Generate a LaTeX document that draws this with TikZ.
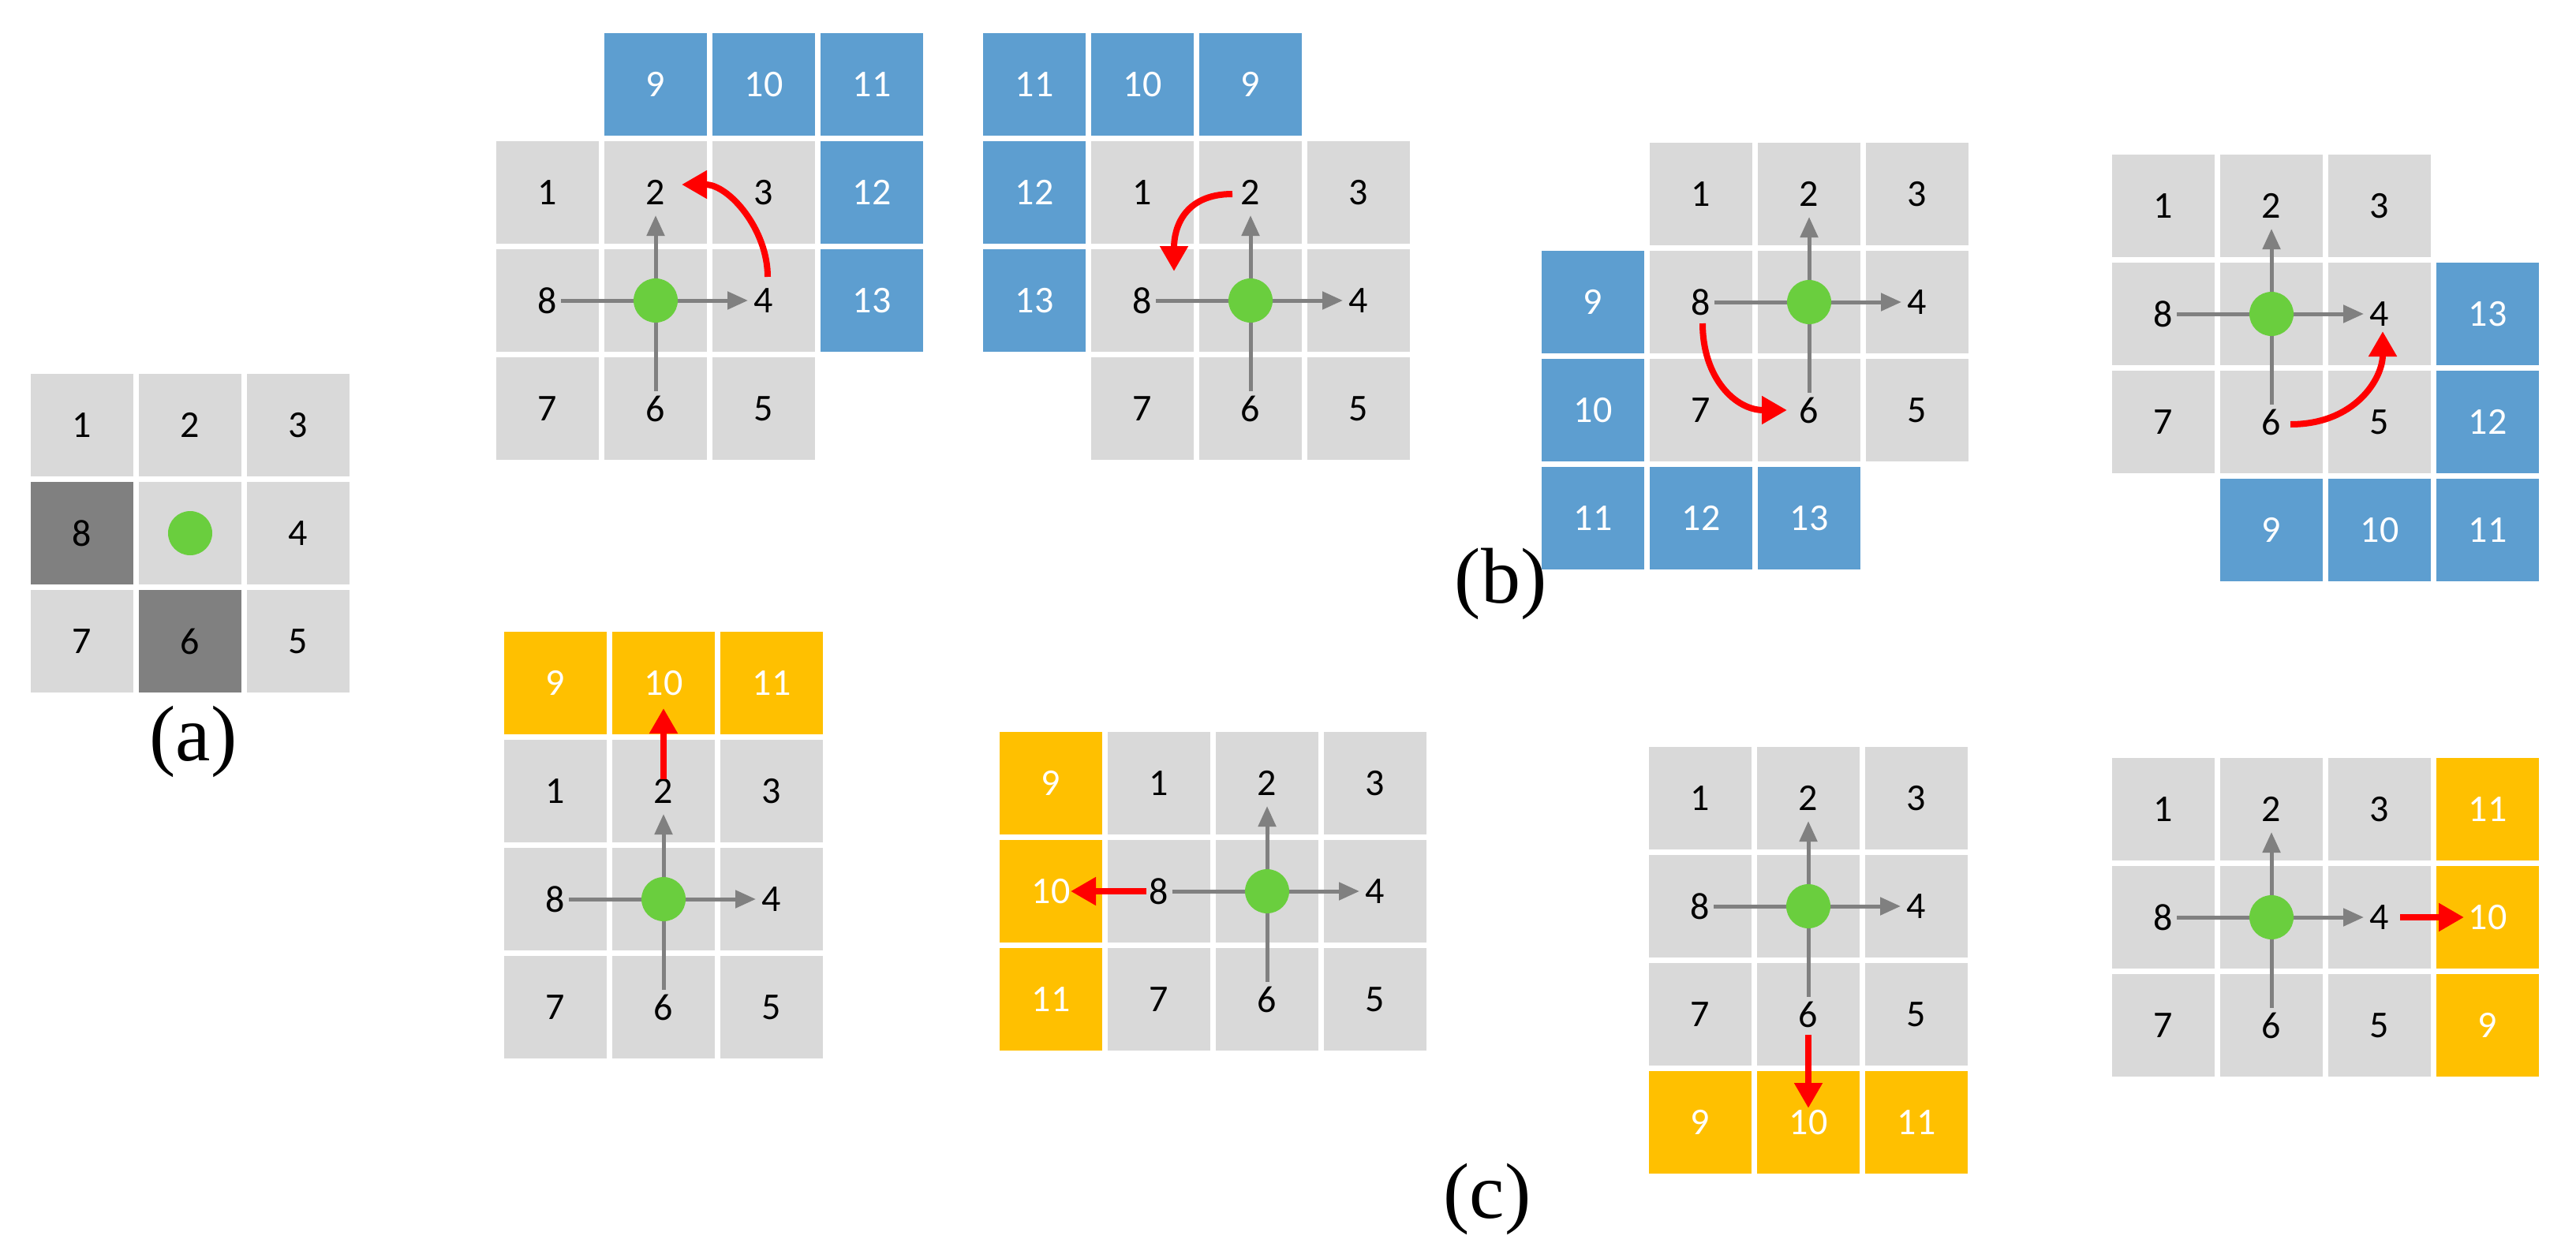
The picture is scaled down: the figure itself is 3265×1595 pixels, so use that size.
\documentclass[tikz,border=0pt]{standalone}
\usepackage{fontspec}
\setmainfont{Carlito}
\newfontfamily\tms{Liberation Serif}
\usetikzlibrary{arrows.meta}
\definecolor{cgray}{RGB}{217,217,217}
\definecolor{cdark}{RGB}{128,128,128}
\definecolor{cblue}{RGB}{93,158,208}
\definecolor{cyel}{RGB}{255,192,0}
\definecolor{cgreen}{RGB}{106,206,62}
\definecolor{cline}{RGB}{128,128,128}
\tikzset{
  cell/.style={fill=cgray, minimum size=130pt, inner sep=0pt, font=\fontsize{48}{50}\selectfont, text=black},
  dark/.style={cell, fill=cdark},
  blu/.style={cell, fill=cblue, text=white},
  yel/.style={cell, fill=cyel, text=white},
  dot/.style={circle, fill=cgreen, minimum size=56pt, inner sep=0pt},
  gline/.style={draw=cline, line width=5pt},
  garrow/.style={gline, -{Triangle[length=26pt,width=22pt]}},
  rarrow/.style={draw=red, line width=8pt, -{Triangle[length=32pt,width=34pt]}},
  lab/.style={font=\tms\fontsize{100}{110}\selectfont}
}
\newcommand\mkcell[5]{\node[#4] (#1) at ({#2+65},{#3+65}) {#5};}
% gray 3x3 grid: prefix, ox, oy, style of 8, style of 6
\newcommand\grid[5]{%
  \mkcell{#1-1}{#2}{#3}{cell}{1}
  \mkcell{#1-2}{#2+137}{#3}{cell}{2}
  \mkcell{#1-3}{#2+274}{#3}{cell}{3}
  \mkcell{#1-8}{#2}{#3+137}{#4}{8}
  \mkcell{#1-m}{#2+137}{#3+137}{cell}{}
  \mkcell{#1-4}{#2+274}{#3+137}{cell}{4}
  \mkcell{#1-7}{#2}{#3+274}{cell}{7}
  \mkcell{#1-6}{#2+137}{#3+274}{#5}{6}
  \mkcell{#1-5}{#2+274}{#3+274}{cell}{5}
}
\newcommand\garrows[1]{%
  \draw[garrow] (#1-m.center) -- ([yshift=-29pt]#1-2.center);
  \draw[garrow] (#1-m.center) -- ([xshift=-20pt]#1-4.center);
  \draw[gline] ([xshift=17pt]#1-8.center) -- (#1-m.center);
  \draw[gline] (#1-m.center) -- ([yshift=22pt]#1-6.center);
  \node[dot] (#1-d) at (#1-m.center) {};
}
\begin{document}
\begin{tikzpicture}[x=1pt,y=-1pt]
\useasboundingbox (0,0) rectangle (3265,1595);
% (a)
\grid{a}{39}{474}{dark}{dark}
\node[dot] (a-d) at (a-m.center) {};
\node[lab] (la) at (245,940) {(a)};

% (b) panel 1
\grid{b1}{629}{179}{cell}{cell}
\garrows{b1}
\mkcell{b1-9}{766}{42}{blu}{9}
\mkcell{b1-10}{903}{42}{blu}{10}
\mkcell{b1-11}{1040}{42}{blu}{11}
\mkcell{b1-12}{1040}{179}{blu}{12}
\mkcell{b1-13}{1040}{316}{blu}{13}
\draw[rarrow] ([shift={(5pt,30pt)}]b1-4.center) .. controls ([shift={(5pt,90pt)}]b1-4.center) and ([shift={(93pt,10pt)}]b1-2.center) .. ([shift={(33pt,10pt)}]b1-2.center);

% (b) panel 2
\grid{b2}{1383}{179}{cell}{cell}
\garrows{b2}
\mkcell{b2-11}{1246}{42}{blu}{11}
\mkcell{b2-10}{1383}{42}{blu}{10}
\mkcell{b2-9}{1520}{42}{blu}{9}
\mkcell{b2-12}{1246}{179}{blu}{12}
\mkcell{b2-13}{1246}{316}{blu}{13}
\draw[rarrow] ([shift={(-23pt,-2pt)}]b2-2.center) .. controls ([shift={(-85pt,-2pt)}]b2-2.center) and ([shift={(40pt,91pt)}]b2-8.center) .. ([shift={(40pt,37pt)}]b2-8.center);

% (b) panel 3
\grid{b3}{2091}{181}{cell}{cell}
\garrows{b3}
\mkcell{b3-9}{1954}{318}{blu}{9}
\mkcell{b3-10}{1954}{455}{blu}{10}
\mkcell{b3-11}{1954}{592}{blu}{11}
\mkcell{b3-12}{2091}{592}{blu}{12}
\mkcell{b3-13}{2228}{592}{blu}{13}
\draw[rarrow] ([shift={(2pt,-27pt)}]b3-8.center) .. controls ([shift={(2pt,-97pt)}]b3-8.center) and ([shift={(-93pt,0pt)}]b3-6.center) .. ([shift={(-28pt,0pt)}]b3-6.center);

% (b) panel 4
\grid{b4}{2677}{196}{cell}{cell}
\garrows{b4}
\mkcell{b4-13}{3088}{333}{blu}{13}
\mkcell{b4-12}{3088}{470}{blu}{12}
\mkcell{b4-11}{3088}{607}{blu}{11}
\mkcell{b4-10}{2951}{607}{blu}{10}
\mkcell{b4-9}{2814}{607}{blu}{9}
\draw[rarrow] ([shift={(24pt,-3pt)}]b4-6.center) .. controls ([shift={(106pt,-3pt)}]b4-6.center) and ([shift={(4pt,-82pt)}]b4-4.center) .. ([shift={(4pt,-22pt)}]b4-4.center);

\node[lab] (lb) at (1902,740) {(b)};

% (c) panel 1
\grid{c1}{639}{938}{cell}{cell}
\garrows{c1}
\mkcell{c1-9}{639}{801}{yel}{9}
\mkcell{c1-10}{776}{801}{yel}{10}
\mkcell{c1-11}{913}{801}{yel}{11}
\draw[rarrow] ([yshift=15pt]c1-2.center) -- ([yshift=-32pt]c1-10.center);

% (c) panel 2
\grid{c2}{1404}{928}{cell}{cell}
\garrows{c2}
\mkcell{c2-9}{1267}{928}{yel}{9}
\mkcell{c2-10}{1267}{1065}{yel}{10}
\mkcell{c2-11}{1267}{1202}{yel}{11}
\draw[rarrow] ([xshift=-16pt]c2-8.center) -- ([xshift=25pt]c2-10.center);

% (c) panel 3
\grid{c3}{2090}{947}{cell}{cell}
\garrows{c3}
\mkcell{c3-9}{2090}{1358}{yel}{9}
\mkcell{c3-10}{2227}{1358}{yel}{10}
\mkcell{c3-11}{2364}{1358}{yel}{11}
\draw[rarrow] ([yshift=-26pt]c3-6.center) -- ([yshift=18pt]c3-10.center);

% (c) panel 4
\grid{c4}{2677}{961}{cell}{cell}
\garrows{c4}
\mkcell{c4-11}{3088}{961}{yel}{11}
\mkcell{c4-10}{3088}{1098}{yel}{10}
\mkcell{c4-9}{3088}{1235}{yel}{9}
\draw[rarrow] ([xshift=26pt]c4-4.center) -- ([xshift=-30pt]c4-10.center);

\node[lab] (lc) at (1885,1520) {(c)};
\end{tikzpicture}
\end{document}
